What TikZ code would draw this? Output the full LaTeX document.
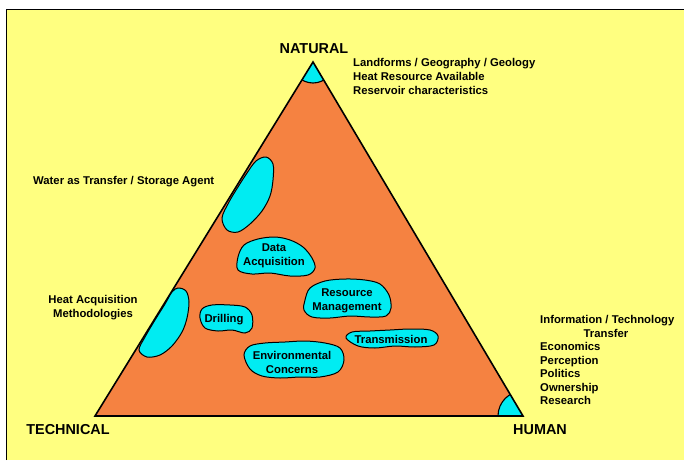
\documentclass[tikz,border=0pt]{standalone}
\usepackage{fontspec}
\setmainfont{Liberation Sans}
\begin{document}
\definecolor{paper}{RGB}{255,255,128}
\definecolor{field}{RGB}{245,130,65}
\definecolor{pool}{RGB}{0,236,242}
\begin{tikzpicture}[x=1pt,y=-1pt,
  lbl/.style={inner sep=0pt,font=\fontsize{11.3}{14}\selectfont\bfseries,text=black},
  corner/.style={inner sep=0pt,font=\fontsize{14.4}{16}\selectfont\bfseries,text=black,anchor=base},
  blob/.style={fill=pool,draw=black,line width=1pt,smooth cycle,tension=0.55},
  blobtext/.style={lbl,align=center}]
\useasboundingbox (0,0) rectangle (684,460);
% page background and frame
\fill[white] (0,0) rectangle (684,460);
\fill[paper] (6,9) rectangle (684,460);
\draw[line width=1.6pt] (6.5,460) -- (6.5,9.5) -- (684,9.5);

% triangle vertices
\coordinate (N) at (313,62);
\coordinate (T) at (95,416);
\coordinate (H) at (523,416);

\fill[field] (N) -- (T) -- (H) -- cycle;
\begin{scope}
  \clip (N) -- (T) -- (H) -- cycle;
  \filldraw[fill=pool,draw=black,line width=1.1pt] (N) circle[radius=21];
  \filldraw[fill=pool,draw=black,line width=1.1pt] (H) circle[radius=25];
\end{scope}
\draw[line width=1.6pt,line join=miter] (N) -- (T) -- (H) -- cycle;

% regions inside the triangle
\draw[blob] plot coordinates {(256,161) (266,157) (273,164) (273,180) (270,196) (262,211) (250,224) (238,232) (227,230) (222,218) (229,202) (238,187) (247,173)};
\draw[blob] plot coordinates {(178,288) (186,291) (189,302) (187,318) (182,332) (172,346) (160,355) (147,357) (139,350) (145,337) (155,320) (165,304) (172,292)};
\draw[blob] plot coordinates {(238,257) (244,245) (258,239) (275,237) (290,240) (303,247) (312,258) (315,268) (308,275) (290,276) (270,273) (252,274) (238,270)};
\draw[blob] plot coordinates {(305,300) (310,288) (325,281) (345,279) (365,280) (380,284) (389,295) (391,308) (386,316) (370,317) (350,316) (330,318) (312,317) (304,310)};
\draw[blob] plot coordinates {(200,318) (202,309) (212,305) (230,305) (245,307) (252,315) (252,328) (245,333) (232,330) (218,331) (205,328)};
\draw[blob] plot coordinates {(346,338) (352,332) (370,331) (390,330) (410,329) (430,330) (438,336) (434,345) (415,347) (395,346) (375,348) (358,346)};
\draw[blob] plot coordinates {(244,355) (250,346) (265,343) (285,342) (305,341) (325,343) (340,348) (344,360) (338,372) (320,377) (300,377) (280,378) (262,376) (250,369)};

\node[blobtext] (data) at (274,256) {Data\\Acquisition};
\node[blobtext] (resource) at (347,300.5) {Resource\\Management};
\node[lbl,anchor=base] (drill) at (224,322) {Drilling};
\node[lbl,anchor=base] (trans) at (391,343) {Transmission};
\node[blobtext] (env) at (292,362) {Environmental\\Concerns};

% corner titles
\node[corner] (natural) at (314,53) {NATURAL};
\node[corner] (technical) at (68,434) {TECHNICAL};
\node[corner] (human) at (540,434) {HUMAN};

% side notes
\node[lbl,anchor=base west] (n1) at (353,66) {Landforms / Geography / Geology};
\node[lbl,anchor=base west] (n2) at (353,80) {Heat Resource Available};
\node[lbl,anchor=base west] (n3) at (353,94) {Reservoir characteristics};

\node[lbl,anchor=base west] (water) at (33,184) {Water as Transfer / Storage Agent};
\node[lbl,align=center] (heat) at (93,308) {Heat Acquisition\\Methodologies};

\node[lbl,anchor=base west] (h1) at (540,323) {Information / Technology};
\node[lbl,anchor=base] (h2) at (606,337) {Transfer};
\node[lbl,anchor=base west] (h3) at (540,350) {Economics};
\node[lbl,anchor=base west] (h4) at (540,364) {Perception};
\node[lbl,anchor=base west] (h5) at (540,377) {Politics};
\node[lbl,anchor=base west] (h6) at (540,391) {Ownership};
\node[lbl,anchor=base west] (h7) at (540,404) {Research};
\end{tikzpicture}
\end{document}
